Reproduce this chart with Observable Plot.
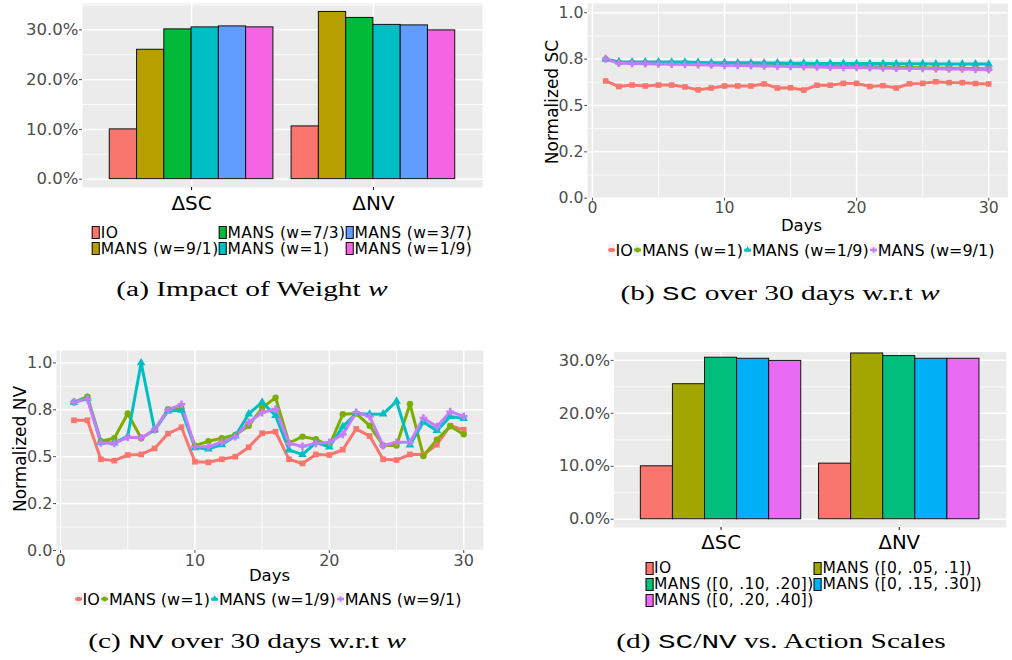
<!DOCTYPE html>
<html>
<head>
<meta charset="utf-8">
<script src="https://cdn.jsdelivr.net/npm/d3@7"></script>
<script src="https://cdn.jsdelivr.net/npm/@observablehq/plot@0.6"></script>
<style>
  html, body { margin: 0; padding: 0; background: #fff; }
  body { width: 1012px; height: 660px; position: relative; overflow: hidden;
         font-family: "DejaVu Sans", sans-serif; color: #000; }
  .chart { position: absolute; }
  .chart svg { display: block; overflow: visible; }
  .abs { position: absolute; white-space: nowrap; }
  .ytitle { transform: translate(-50%, -50%) rotate(-90deg); font-size: 17px; line-height: 17px; }
  .xtitle { transform: translate(-50%, -50%); font-size: 16.5px; line-height: 17px; }
  .caption { transform: translate(-50%, -50%) scaleX(1.47); font-family: "Liberation Serif", serif;
             font-size: 20px; line-height: 20px; }
  .caption .tt { font-family: "Liberation Mono", monospace; font-size: 20px; }
  .legend { position: absolute; transform: translate(-50%, -50%); display: grid;
            font-size: 16px; white-space: nowrap; }
  .item { display: flex; align-items: center; }
  .fillkey { width: 8px; height: 13px; box-sizing: border-box; border: 1px solid #111; flex: none; margin-right: 1px; }
  .linekey { flex: none; margin-right: 1px; display: block; }
  .row { display: flex; align-items: center; }
</style>
</head>
<body>
<script>
// ---------- (a) improvement of SC / NV for each weight w ----------
const catsA = ["ΔSC", "ΔNV"];
const seriesA = ["IO", "MANS (w=9/1)", "MANS (w=7/3)", "MANS (w=1)", "MANS (w=3/7)", "MANS (w=1/9)"];
const colorsA = ["#F8766D", "#B79F00", "#00BA38", "#00BFC4", "#619CFF", "#F564E3"];
const deltaSC_A = [10.0, 26.0, 30.1, 30.5, 30.7, 30.5];
const deltaNV_A = [10.6, 33.6, 32.4, 31.0, 30.9, 29.9];

// ---------- (d) improvement for each action scale ----------
const catsD = ["ΔSC", "ΔNV"];
const seriesD = ["IO", "MANS ([0, .05, .1])", "MANS ([0, .10, .20])", "MANS ([0, .15, .30])", "MANS ([0, .20, .40])"];
const colorsD = ["#F8766D", "#A3A500", "#00BF7D", "#00B0F6", "#E76BF3"];
const deltaSC_D = [10.0, 25.5, 30.5, 30.3, 29.9];
const deltaNV_D = [10.5, 31.3, 30.8, 30.3, 30.3];

const pctTicks = [0, 10, 20, 30];
const pctTickLabels = ["0.0%", "10.0%", "20.0%", "30.0%"];
const pctMinor = [5, 15, 25, 35];

// ---------- (b), (c) daily series over 30 days ----------
const days = [1,2,3,4,5,6,7,8,9,10,11,12,13,14,15,16,17,18,19,20,21,22,23,24,25,26,27,28,29,30];
const seriesL = ["IO", "MANS (w=1)", "MANS (w=1/9)", "MANS (w=9/1)"];
const colorsL = ["#F8766D", "#7CAE00", "#00BFC4", "#C77CFF"];
const symbolsL = ["square", "circle", "triangle", "cross"];

const scIO  = [0.632,0.602,0.610,0.605,0.610,0.610,0.600,0.584,0.594,0.605,0.605,0.605,0.616,0.594,0.595,0.583,0.609,0.609,0.619,0.619,0.602,0.607,0.594,0.617,0.619,0.628,0.623,0.623,0.618,0.616];
const scW1  = [0.750,0.731,0.731,0.730,0.730,0.729,0.728,0.726,0.724,0.723,0.722,0.721,0.720,0.718,0.717,0.716,0.714,0.713,0.711,0.710,0.709,0.707,0.706,0.705,0.704,0.702,0.701,0.700,0.699,0.697];
const scW19 = [0.750,0.736,0.735,0.735,0.735,0.734,0.734,0.732,0.731,0.731,0.730,0.730,0.729,0.729,0.728,0.728,0.727,0.727,0.727,0.726,0.726,0.726,0.725,0.725,0.725,0.724,0.724,0.724,0.724,0.723];
const scW91 = [0.750,0.727,0.726,0.725,0.723,0.722,0.721,0.719,0.718,0.716,0.715,0.714,0.713,0.712,0.710,0.708,0.707,0.706,0.705,0.704,0.703,0.702,0.701,0.700,0.699,0.698,0.697,0.696,0.694,0.693];

const nvIO  = [0.694,0.694,0.486,0.479,0.509,0.512,0.544,0.623,0.657,0.473,0.470,0.486,0.500,0.550,0.625,0.633,0.486,0.464,0.512,0.509,0.537,0.648,0.610,0.486,0.482,0.512,0.512,0.564,0.665,0.644];
const nvW1  = [0.790,0.820,0.582,0.598,0.730,0.598,0.642,0.753,0.756,0.559,0.582,0.598,0.616,0.665,0.760,0.815,0.573,0.607,0.593,0.559,0.726,0.730,0.665,0.560,0.560,0.781,0.504,0.591,0.662,0.619];
const nvW19 = [0.790,0.811,0.577,0.573,0.610,1.000,0.642,0.744,0.747,0.548,0.541,0.564,0.610,0.728,0.790,0.719,0.536,0.511,0.575,0.552,0.660,0.730,0.726,0.728,0.795,0.562,0.685,0.639,0.714,0.703];
const nvW91 = [0.790,0.808,0.573,0.571,0.603,0.601,0.644,0.749,0.779,0.553,0.553,0.577,0.607,0.683,0.735,0.754,0.571,0.555,0.571,0.577,0.619,0.737,0.714,0.559,0.577,0.577,0.706,0.660,0.740,0.715];

const dayTicks = [0, 10, 20, 30];
const dayMinor = [5, 15, 25];
const normTicks = [0, 0.25, 0.5, 0.75, 1];
const normTickLabels = ["0.0", "0.2", "0.5", "0.8", "1.0"];
const normMinor = [0.125, 0.375, 0.625, 0.875];

// ---------- helpers ----------
const PANEL = "#EBEBEB";
const grid = w => ({ stroke: "white", strokeOpacity: 1, strokeWidth: w });

function place(el, left, top) {
  el.style.left = left + "px";
  el.style.top = top + "px";
  document.body.appendChild(el);
  return el;
}
function text(cls, html, left, top) {
  const d = document.createElement("div");
  d.className = "abs " + cls;
  d.innerHTML = html;
  return place(d, left, top);
}

// grouped (dodged) bars: each category centred on 1, 2, ... with bars sharing 90% of the slot
function barChart({cats, series, colors, values, left, top, width, height, margins, yDomain, minor}) {
  const n = series.length, w = 0.9 / n;
  const rows = cats.flatMap((c, ci) => series.map((s, si) => ({
    cat: c, ci: ci + 1, si, series: s, value: values[ci][si]
  })));
  const svg = Plot.plot({
    width, height,
    marginLeft: margins[0], marginRight: margins[1], marginTop: margins[2], marginBottom: margins[3],
    style: {fontFamily: "DejaVu Sans", background: "transparent", overflow: "visible"},
    x: {domain: [0.4, cats.length + 0.6]},
    y: {domain: yDomain},
    color: {domain: series, range: colors},
    marks: [
      Plot.frame({fill: PANEL, stroke: "none"}),
      Plot.gridY(minor.filter(v => v < yDomain[1]), grid(0.8)),
      Plot.gridY(pctTicks, grid(1.5)),
      Plot.gridX(cats.map((c, i) => i + 1), grid(1.5)),
      Plot.rectY(rows, {
        x1: d => d.ci - 0.45 + d.si * w,
        x2: d => d.ci - 0.45 + (d.si + 1) * w,
        y: "value", fill: "series", stroke: "#111", strokeWidth: 1
      }),
      Plot.axisY({ticks: pctTicks, tickFormat: v => pctTickLabels[pctTicks.indexOf(v)],
                  tickSize: 3, tickPadding: 1, fontSize: 16.5, color: "#4D4D4D", label: null}),
      Plot.axisX({ticks: cats.map((c, i) => i + 1), tickFormat: v => cats[v - 1],
                  tickSize: 3, tickPadding: 5, fontSize: 20, color: "#000", label: null})
    ]
  });
  const holder = document.createElement("div");
  holder.className = "chart";
  holder.appendChild(svg);
  place(holder, left, top);
}

function lineChart({values, left, top, width, height, margins, xDomain, yDomain}) {
  const rows = seriesL.flatMap((s, si) => days.map((d, di) => ({series: s, day: d, v: values[si][di]})));
  const svg = Plot.plot({
    width, height,
    marginLeft: margins[0], marginRight: margins[1], marginTop: margins[2], marginBottom: margins[3],
    style: {fontFamily: "DejaVu Sans", background: "transparent", overflow: "visible"},
    x: {domain: xDomain},
    y: {domain: yDomain},
    color: {domain: seriesL, range: colorsL},
    symbol: {domain: seriesL, range: symbolsL},
    marks: [
      Plot.frame({fill: PANEL, stroke: "none"}),
      Plot.gridY(normMinor, grid(0.8)),
      Plot.gridX(dayMinor, grid(0.8)),
      Plot.gridY(normTicks, grid(1.5)),
      Plot.gridX(dayTicks, grid(1.5)),
      Plot.line(rows, {x: "day", y: "v", z: "series", stroke: "series", strokeWidth: 3}),
      Plot.dot(rows, {x: "day", y: "v", fill: "series", symbol: "series", r: 3.2}),
      Plot.axisY({ticks: normTicks, tickFormat: v => normTickLabels[normTicks.indexOf(v)],
                  tickSize: 3, tickPadding: 1, fontSize: 16, color: "#4D4D4D", label: null}),
      Plot.axisX({ticks: dayTicks, tickSize: 3, tickPadding: 1, fontSize: 16, color: "#4D4D4D", label: null})
    ]
  });
  const holder = document.createElement("div");
  holder.className = "chart";
  holder.appendChild(svg);
  place(holder, left, top);
}

const symbolTypes = {square: d3.symbolSquare, circle: d3.symbolCircle, triangle: d3.symbolTriangle, cross: d3.symbolCross};
function lineKey(color, sym) {
  const path = d3.symbol(symbolTypes[sym], 18)();
  return `<svg class="linekey" width="7" height="13" viewBox="-3.5 -6.5 7 13">
    <rect x="-3.5" y="-6.5" width="7" height="13" fill="#F2F2F2"/>
    <line x1="-3.5" x2="3.5" y1="0" y2="0" stroke="${color}" stroke-width="2.5"/>
    <path d="${path}" fill="${color}"/></svg>`;
}
function fillLegend(series, colors, {cx, cy, rows, cols, rowH, byColumn, fontSize, spacing}) {
  const d = document.createElement("div");
  d.className = "legend";
  d.style.gridTemplateRows = `repeat(${rows}, ${rowH}px)`;
  d.style.gridTemplateColumns = `repeat(${cols}, auto)`;
  d.style.gridAutoFlow = byColumn ? "column" : "row";
  d.style.lineHeight = rowH + "px";
  d.style.fontSize = fontSize + "px";
  d.style.letterSpacing = spacing + "px";
  d.innerHTML = series.map((s, i) =>
    `<div class="item"><span class="fillkey" style="background:${colors[i]}"></span><span>${s}</span></div>`).join("");
  return place(d, cx, cy);
}
function lineLegend(cx, cy) {
  const d = document.createElement("div");
  d.className = "legend";
  d.innerHTML = `<div class="row">` + seriesL.map((s, i) =>
    `<span class="item">${lineKey(colorsL[i], symbolsL[i])}<span style="margin-right:1px">${s}</span></span>`).join("") + `</div>`;
  return place(d, cx, cy);
}

// ---------- (a) ----------
barChart({cats: catsA, series: seriesA, colors: colorsA, values: [deltaSC_A, deltaNV_A],
  left: 0, top: 0, width: 490, height: 215, margins: [82, 8, 3, 28],
  yDomain: [-1.68, 35.3], minor: pctMinor});
fillLegend(seriesA, colorsA, {cx: 282, cy: 240.5, rows: 2, cols: 3, rowH: 16, byColumn: true,
  fontSize: 15.5, spacing: 0.4});
text("caption", "(a) Impact of Weight <i>w</i>", 252, 289);

// ---------- (b) ----------
lineChart({values: [scIO, scW1, scW19, scW91], left: 530, top: 0, width: 490, height: 225,
  margins: [58, 4.7, 3, 24], xDomain: [-0.37, 31.45], yDomain: [0, 1.05]});
text("ytitle", "Normalized SC", 552, 102);
text("xtitle", "Days", 801.5, 225);
lineLegend(801.5, 250);
text("caption", "(b) <span class=\"tt\">SC</span> over 30 days w.r.t <i>w</i>", 780, 294);

// ---------- (c) ----------
lineChart({values: [nvIO, nvW1, nvW19, nvW91], left: 0, top: 345, width: 490, height: 230,
  margins: [56, 7, 5, 25], xDomain: [-0.3, 31.47], yDomain: [0, 1.066]});
text("ytitle", "Normalized NV", 20, 449);
text("xtitle", "Days", 269.5, 575);
lineLegend(268.5, 599);
text("caption", "(c) <span class=\"tt\">NV</span> over 30 days w.r.t <i>w</i>", 247, 642);

// ---------- (d) ----------
barChart({cats: catsD, series: seriesD, colors: colorsD, values: [deltaSC_D, deltaNV_D],
  left: 530, top: 345, width: 490, height: 210, margins: [85, 6.4, 6.5, 25],
  yDomain: [-1.55, 31.6], minor: pctMinor});
fillLegend(seriesD, colorsD, {cx: 813.5, cy: 584, rows: 3, cols: 2, rowH: 16, byColumn: false,
  fontSize: 15.5, spacing: 0.3});
text("caption", "(d) <span class=\"tt\">SC</span>/<span class=\"tt\">NV</span> vs. Action Scales", 781, 642);
</script>
</body>
</html>
